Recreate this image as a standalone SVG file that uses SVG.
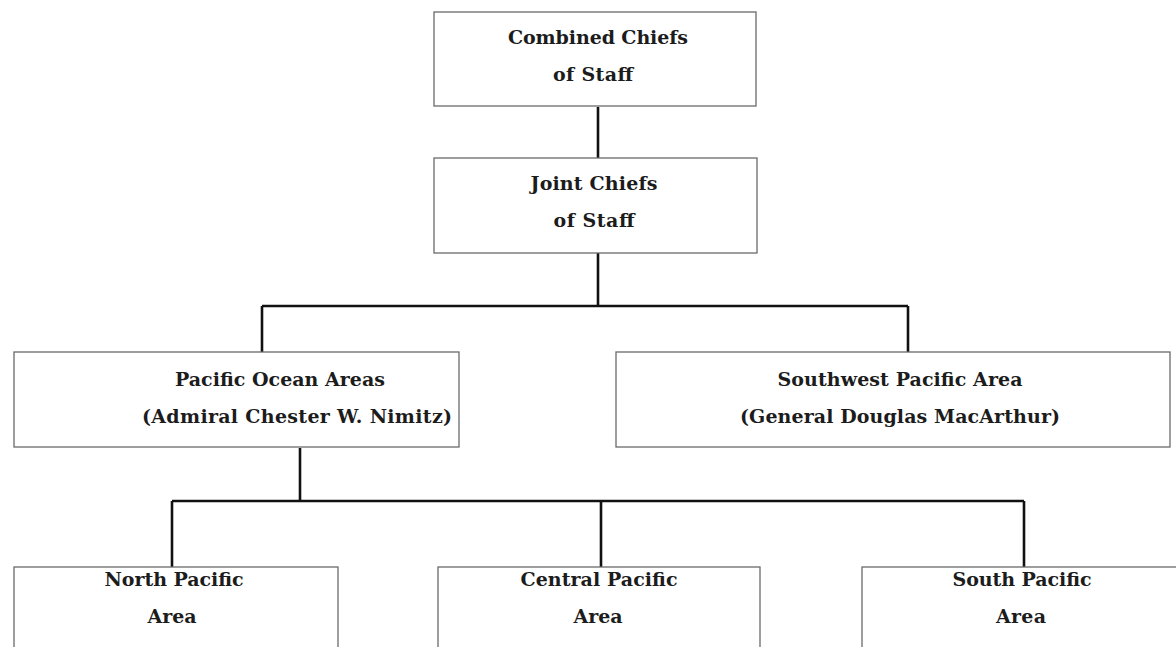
<svg xmlns="http://www.w3.org/2000/svg" width="1176" height="647" viewBox="0 0 1176 647">
<style>
.box{fill:#fff;stroke:#6a6a6a;stroke-width:1.3}
.t{font-family:"DejaVu Serif","Liberation Serif",serif;font-weight:bold;font-size:19px;fill:#1c1c1c;text-anchor:middle}
.c{stroke:#111;stroke-width:2.6;fill:none}
</style>
<rect width="1176" height="647" fill="#fff"/>
<g id="connectors">
<line class="c" x1="598" y1="107" x2="598" y2="158"/>
<line class="c" x1="598" y1="253" x2="598" y2="306"/>
<line class="c" x1="262" y1="306" x2="908" y2="306"/>
<line class="c" x1="262" y1="306" x2="262" y2="352"/>
<line class="c" x1="908" y1="306" x2="908" y2="352"/>
<line class="c" x1="300" y1="448" x2="300" y2="501"/>
<line class="c" x1="172" y1="501" x2="1024" y2="501"/>
<line class="c" x1="172" y1="501" x2="172" y2="567"/>
<line class="c" x1="601" y1="501" x2="601" y2="567"/>
<line class="c" x1="1024" y1="501" x2="1024" y2="567"/>
</g>
<g id="combined">
<rect class="box" x="434" y="12" width="322" height="94"/>
<text class="t" x="598" y="44" textLength="180" lengthAdjust="spacing">Combined Chiefs</text>
<text class="t" x="593" y="81" textLength="80" lengthAdjust="spacing">of Staff</text>
</g>
<g id="joint">
<rect class="box" x="434" y="158" width="323" height="95"/>
<text class="t" x="594" y="190" textLength="127" lengthAdjust="spacing">Joint Chiefs</text>
<text class="t" x="594" y="227" textLength="81" lengthAdjust="spacing">of Staff</text>
</g>
<g id="poa">
<rect class="box" x="14" y="352" width="445" height="95"/>
<text class="t" x="280" y="386" textLength="210" lengthAdjust="spacing">Pacific Ocean Areas</text>
<text class="t" x="297" y="423" textLength="310" lengthAdjust="spacing">(Admiral Chester W. Nimitz)</text>
</g>
<g id="swpa">
<rect class="box" x="616" y="352" width="554" height="95"/>
<text class="t" x="900" y="386" textLength="245" lengthAdjust="spacing">Southwest Pacific Area</text>
<text class="t" x="900" y="423" textLength="320" lengthAdjust="spacing">(General Douglas MacArthur)</text>
</g>
<g id="north">
<rect class="box" x="14" y="567" width="324" height="100"/>
<text class="t" x="174" y="586" textLength="139" lengthAdjust="spacing">North Pacific</text>
<text class="t" x="172" y="623" textLength="49" lengthAdjust="spacing">Area</text>
</g>
<g id="central">
<rect class="box" x="438" y="567" width="322" height="100"/>
<text class="t" x="599" y="586" textLength="157" lengthAdjust="spacing">Central Pacific</text>
<text class="t" x="598" y="623" textLength="49" lengthAdjust="spacing">Area</text>
</g>
<g id="south">
<rect class="box" x="862" y="567" width="330" height="100"/>
<text class="t" x="1022" y="586" textLength="139" lengthAdjust="spacing">South Pacific</text>
<text class="t" x="1021" y="623" textLength="50" lengthAdjust="spacing">Area</text>
</g>
</svg>
